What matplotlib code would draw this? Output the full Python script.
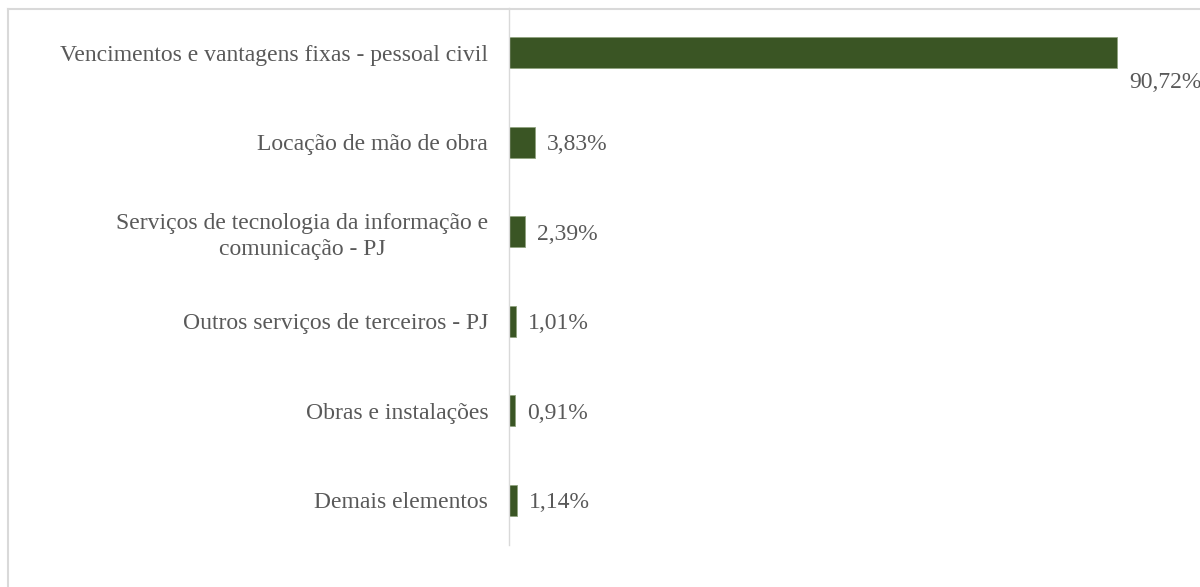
import matplotlib
matplotlib.use("Agg")
import matplotlib.pyplot as plt
from matplotlib.lines import Line2D

categorias = [
    "Vencimentos e vantagens fixas - pessoal civil",
    "Locação de mão de obra",
    "Serviços de tecnologia da informação e\ncomunicação - PJ",
    "Outros serviços de terceiros - PJ",
    "Obras e instalações",
    "Demais elementos",
]
valores = [90.72, 3.83, 2.39, 1.01, 0.91, 1.14]
rotulos = ["90,72%", "3,83%", "2,39%", "1,01%", "0,91%", "1,14%"]

verde = "#3a5524"
cinza = "#595959"

plt.rcParams["font.family"] = ["Liberation Serif", "DejaVu Serif"]

fig = plt.figure(figsize=(12, 5.87), dpi=100)
ax = fig.add_axes([509 / 1200, 42 / 587, 691 / 1200, 537 / 587])

# moldura cinza clara: so topo e lado esquerdo aparecem (resto cortado)
x0, y0 = 7.5 / 1200, 1 - 8.5 / 587
fig.add_artist(Line2D([x0, 1.0], [y0, y0], transform=fig.transFigure,
                      color="#d9d9d9", linewidth=1.5))
fig.add_artist(Line2D([x0, x0], [0.0, y0], transform=fig.transFigure,
                      color="#d9d9d9", linewidth=1.5))

pos = list(range(len(categorias)))
ax.barh(pos, valores, height=0.35, color=verde, edgecolor="#8fa37f",
        linewidth=0.6)

ax.set_ylim(len(categorias) - 0.5, -0.5)
ax.set_xlim(0, 691 / 6.70)

for i, (v, r) in enumerate(zip(valores, rotulos)):
    if i == 0:
        ax.text(v + 1.8, i + 0.3, r, ha="left", va="center_baseline",
                fontsize=17, color=cinza, clip_on=False)
    else:
        ax.text(v + 1.8, i, r, ha="left", va="center_baseline",
                fontsize=17, color=cinza)

ax.set_yticks(pos)
ax.set_yticklabels(categorias, fontsize=17, color=cinza,
                   multialignment="center", linespacing=1.3)
ax.tick_params(axis="y", length=0, pad=15)
ax.set_xticks([])

for s in ["top", "right", "bottom"]:
    ax.spines[s].set_visible(False)
ax.spines["left"].set_color("#d9d9d9")
ax.spines["left"].set_linewidth(1.0)

fig.savefig("out.png", dpi=100)
